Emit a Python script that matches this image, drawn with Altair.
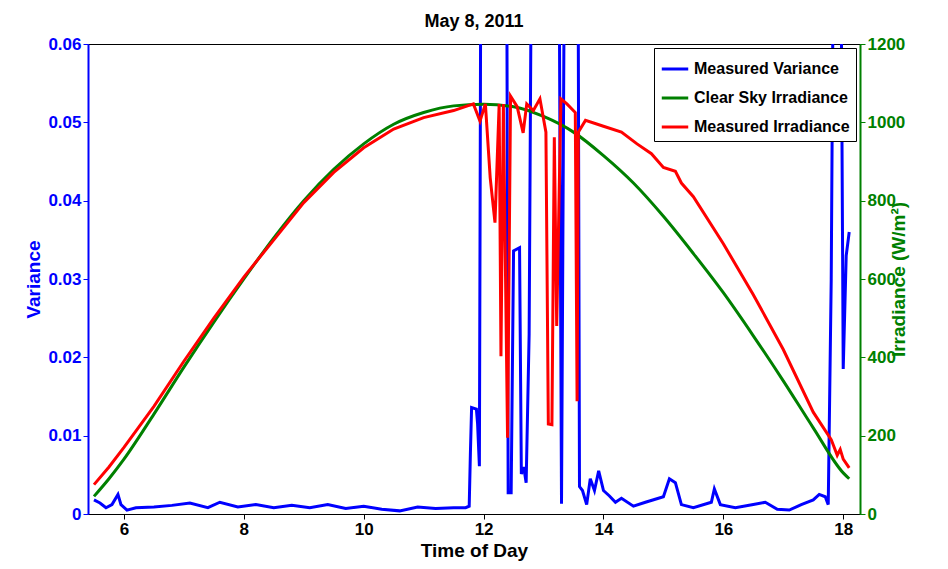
import pandas as pd
import altair as alt

# clear sky irradiance (W/m^2)
cs_hour = [5.5, 5.75, 6, 6.5, 7, 7.5, 8, 8.5, 9, 9.5, 10, 10.5, 11, 11.5, 12, 12.5,
           13, 13.5, 14, 14.5, 15, 15.5, 16, 16.5, 17, 17.5, 18, 18.1]
cs_irr = [45, 90, 140, 255, 375, 490, 600, 705, 800, 880, 945, 995, 1025, 1042, 1046, 1040,
          1015, 975, 915, 845, 760, 665, 565, 455, 340, 220, 105, 90]

# measured irradiance (W/m^2)
mi_hour = [5.5, 5.75, 6, 6.5, 7, 7.5, 8, 8.5, 9, 9.5, 10, 10.5, 11, 11.5, 11.83, 11.94, 12.03,
           12.11, 12.19, 12.26, 12.29, 12.33, 12.40, 12.45, 12.56, 12.66, 12.72, 12.83, 12.94,
           13.04, 13.08, 13.14, 13.18, 13.22, 13.29, 13.39, 13.53, 13.56, 13.58, 13.7, 14.0,
           14.3, 14.56, 14.8, 15.0, 15.2, 15.3, 15.5, 16, 16.5, 17, 17.5, 17.8, 17.9, 17.95, 18.0, 18.1]
mi_irr = [75, 120, 170, 275, 390, 500, 605, 700, 795, 872, 935, 983, 1012, 1030, 1047, 1003, 1047,
          859, 744, 1047, 403, 1047, 195, 1067, 1040, 973, 1047, 1030, 1060,
          975, 230, 228, 962, 480, 1060, 1047, 1025, 288, 975, 1005, 990,
          975, 945, 920, 885, 875, 845, 810, 690, 560, 420, 260, 190, 150, 165, 140, 118]

# measured variance
mv_hour = [5.5, 5.6, 5.7, 5.8, 5.9, 5.95, 6.05, 6.2, 6.5, 6.8, 7.1, 7.4, 7.6, 7.9, 8.2, 8.5,
           8.8, 9.1, 9.4, 9.7, 10.0, 10.3, 10.6, 10.9, 11.2, 11.5, 11.7, 11.76, 11.78, 11.80,
           11.88, 11.9, 11.93, 11.96, 12.38, 12.41, 12.46, 12.5, 12.6, 12.63, 12.67, 12.71,
           12.76, 12.81, 13.25, 13.3, 13.36, 13.57, 13.6, 13.65, 13.72, 13.78, 13.85, 13.92,
           14.0, 14.1, 14.2, 14.3, 14.5, 14.7, 15.0, 15.1, 15.2, 15.3, 15.5, 15.8, 15.85,
           15.95, 16.2, 16.5, 16.7, 16.9, 17.1, 17.3, 17.5, 17.6, 17.7, 17.75, 17.8, 17.85,
           17.95, 18.0, 18.05, 18.1]
mv_var = [0.0018, 0.0014, 0.0008, 0.0012, 0.0025, 0.0012, 0.0005, 0.0008, 0.0009, 0.0011, 0.0014,
          0.0008, 0.0015, 0.0009, 0.0012, 0.0008, 0.0011, 0.0008, 0.0012, 0.0007, 0.0010, 0.0006,
          0.0004, 0.0009, 0.0007, 0.0008, 0.0008, 0.0010, 0.0078, 0.0136, 0.0134, 0.0115, 0.0061,
          0.09, 0.09, 0.0027, 0.0027, 0.0336, 0.034, 0.0051, 0.006, 0.004, 0.023, 0.09, 0.09,
          0.0013, 0.09, 0.09, 0.0035, 0.003, 0.0012, 0.0045, 0.003, 0.0055, 0.003, 0.0023,
          0.0015, 0.002, 0.001, 0.0015, 0.0022, 0.0045, 0.004, 0.0012, 0.0008, 0.0015, 0.0032,
          0.0012, 0.0008, 0.0012, 0.0015, 0.0006, 0.0005, 0.0012, 0.0018, 0.0025, 0.0022, 0.0012,
          0.03, 0.09, 0.09, 0.0185, 0.033, 0.036]

names = ["Measured Variance", "Clear Sky Irradiance", "Measured Irradiance"]
colors = ["#0000ff", "#008000", "#ff0000"]

var_df = pd.DataFrame({"hour": mv_hour, "value": mv_var, "series": names[0]})
cs_df = pd.DataFrame({"hour": cs_hour, "value": cs_irr, "series": names[1]})
mi_df = pd.DataFrame({"hour": mi_hour, "value": mi_irr, "series": names[2]})

x_enc = alt.X("hour:Q", title="Time of Day",
              scale=alt.Scale(domain=[5.4, 18.28], nice=False, zero=False),
              axis=alt.Axis(values=[6, 8, 10, 12, 14, 16, 18], labelFontSize=17,
                            titleFontSize=19, labelColor="black", domainColor="black",
                            tickColor="black"))
color_enc = alt.Color("series:N", scale=alt.Scale(domain=names, range=colors),
                      legend=alt.Legend(title=None, orient="top-right", offset=4,
                                        strokeColor="black", fillColor="white",
                                        padding=6, symbolType="stroke", symbolSize=700,
                                        symbolStrokeWidth=3, labelFontSize=16,
                                        labelFontWeight="bold", labelColor="black",
                                        rowPadding=6))

var_chart = alt.Chart(var_df).mark_line(strokeWidth=3, clip=True).encode(
    x_enc,
    alt.Y("value:Q", title="Variance", scale=alt.Scale(domain=[0, 0.06], nice=False),
          axis=alt.Axis(values=[0, 0.01, 0.02, 0.03, 0.04, 0.05, 0.06], format=".2~f",
                        labelColor="#0000ff", titleColor="#0000ff", domainColor="#0000ff",
                        tickColor="#0000ff", labelFontSize=17, titleFontSize=19, domainWidth=2)),
    color_enc,
    order="hour:Q",
)

irr_y = alt.Y("value:Q", title="Irradiance (W/m²)",
              scale=alt.Scale(domain=[0, 1200], nice=False),
              axis=alt.Axis(orient="right", values=[0, 200, 400, 600, 800, 1000, 1200],
                            format="d",
                            labelColor="#008000", titleColor="#008000", domainColor="#008000",
                            tickColor="#008000", labelFontSize=17, titleFontSize=19,
                            titleAngle=270, domainWidth=2))

cs_chart = alt.Chart(cs_df).mark_line(strokeWidth=3, interpolate="monotone").encode(
    x_enc, irr_y, color_enc, order="hour:Q")
mi_chart = alt.Chart(mi_df).mark_line(strokeWidth=3).encode(
    x_enc, irr_y, color_enc, order="hour:Q")

chart = alt.layer(var_chart, cs_chart + mi_chart).resolve_scale(
    y="independent"
).properties(
    width=772, height=470, title="May 8, 2011",
    padding={"left": 16, "top": 5, "right": 5, "bottom": 5}
).configure(
    font="Liberation Sans"
).configure_axis(
    grid=False, labelFontWeight="bold", titleFontWeight="bold"
).configure_title(
    fontSize=18, fontWeight="bold"
).configure_view(stroke="black")

chart.save("out.html", embed_options={"renderer": "svg", "actions": False})
